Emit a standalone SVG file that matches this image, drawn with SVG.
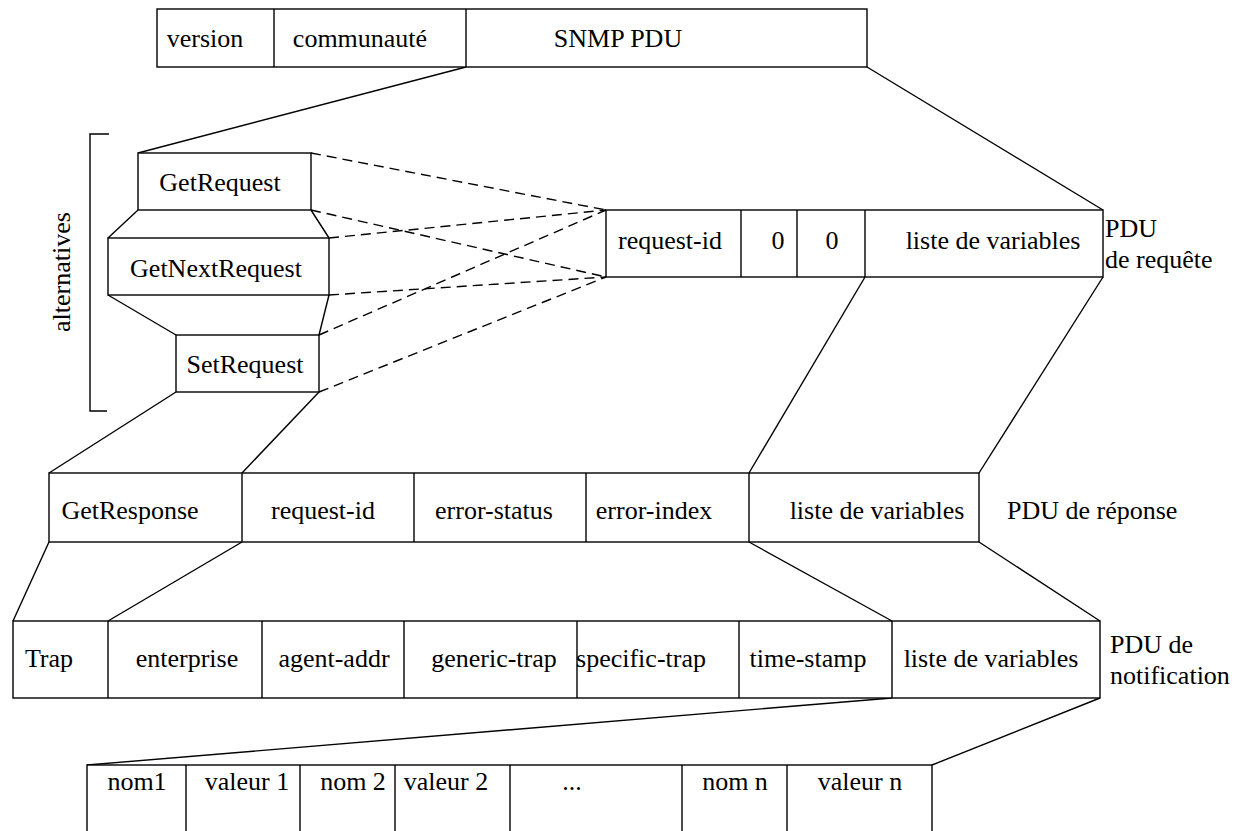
<svg xmlns="http://www.w3.org/2000/svg" width="1255" height="831" viewBox="0 0 1255 831">
  <style>
    .box { fill: #fff; stroke: #000; stroke-width: 1.4; }
    .div { stroke: #000; stroke-width: 1.4; fill: none; }
    .ln { stroke: #000; stroke-width: 1.4; fill: none; }
    .dash { stroke: #000; stroke-width: 1.4; fill: none; stroke-dasharray: 10 6; }
    text { font-family: "Liberation Serif", "Times New Roman", serif; font-size: 26px; fill: #000; }
    .c { text-anchor: middle; }
  </style>
  <rect width="1255" height="831" fill="#fff"/>

  <!-- links between the layers -->
  <g id="connectors">
    <line class="ln" x1="466" y1="67" x2="138" y2="153"/>
    <line class="ln" x1="867" y1="67" x2="1103" y2="210"/>
    <line class="ln" x1="176" y1="392" x2="49" y2="473"/>
    <line class="ln" x1="319" y1="392" x2="242" y2="473"/>
    <line class="ln" x1="865" y1="277" x2="749" y2="473"/>
    <line class="ln" x1="1103" y1="277" x2="979" y2="473"/>
    <line class="ln" x1="49" y1="542" x2="13" y2="621"/>
    <line class="ln" x1="242" y1="542" x2="108" y2="621"/>
    <line class="ln" x1="749" y1="542" x2="892" y2="621"/>
    <line class="ln" x1="979" y1="542" x2="1100" y2="621"/>
    <line class="ln" x1="892" y1="698" x2="87" y2="765"/>
    <line class="ln" x1="1100" y1="698" x2="932" y2="765"/>
    <line class="dash" x1="311" y1="153" x2="606" y2="210"/>
    <line class="dash" x1="311" y1="210" x2="606" y2="277"/>
    <line class="dash" x1="329" y1="238" x2="606" y2="210"/>
    <line class="dash" x1="329" y1="295" x2="606" y2="277"/>
    <line class="dash" x1="319" y1="335" x2="606" y2="210"/>
    <line class="dash" x1="319" y1="392" x2="606" y2="277"/>
  </g>

  <!-- SNMP message -->
  <g id="message">
    <rect class="box" x="157" y="9" width="710" height="58"/>
    <line class="div" x1="274" y1="9" x2="274" y2="67"/>
    <line class="div" x1="466" y1="9" x2="466" y2="67"/>
    <text class="c" x="205" y="47">version</text>
    <text class="c" x="360" y="47">communauté</text>
    <text class="c" x="618" y="47">SNMP PDU</text>
  </g>

  <!-- request PDU types -->
  <g id="alternatives">
    <path class="ln" d="M109,134 H90 V411 H107"/>
    <text class="c" x="70" y="272" transform="rotate(-90 70 272)">alternatives</text>
    <line class="ln" x1="138" y1="210" x2="108" y2="238"/>
    <line class="ln" x1="311" y1="210" x2="329" y2="238"/>
    <line class="ln" x1="108" y1="295" x2="176" y2="335"/>
    <line class="ln" x1="329" y1="295" x2="319" y2="335"/>
  </g>
  <g id="get-request">
    <rect class="box" x="138" y="153" width="173" height="57"/>
    <text class="c" x="220" y="191">GetRequest</text>
  </g>
  <g id="get-next-request">
    <rect class="box" x="108" y="238" width="221" height="57"/>
    <text class="c" x="216" y="277">GetNextRequest</text>
  </g>
  <g id="set-request">
    <rect class="box" x="176" y="335" width="143" height="57"/>
    <text class="c" x="245" y="373">SetRequest</text>
  </g>

  <!-- request PDU -->
  <g id="request-pdu">
    <rect class="box" x="606" y="210" width="497" height="67"/>
    <line class="div" x1="741" y1="210" x2="741" y2="277"/>
    <line class="div" x1="797" y1="210" x2="797" y2="277"/>
    <line class="div" x1="865" y1="210" x2="865" y2="277"/>
    <text class="c" x="670" y="249">request-id</text>
    <text class="c" x="778" y="249">0</text>
    <text class="c" x="832" y="249">0</text>
    <text class="c" x="993" y="249">liste de variables</text>
    <text x="1105" y="237">PDU</text>
    <text x="1105" y="268">de requête</text>
  </g>

  <!-- response PDU -->
  <g id="response-pdu">
    <rect class="box" x="49" y="473" width="930" height="69"/>
    <line class="div" x1="242" y1="473" x2="242" y2="542"/>
    <line class="div" x1="414" y1="473" x2="414" y2="542"/>
    <line class="div" x1="586" y1="473" x2="586" y2="542"/>
    <line class="div" x1="749" y1="473" x2="749" y2="542"/>
    <text class="c" x="130" y="519">GetResponse</text>
    <text class="c" x="323" y="519">request-id</text>
    <text class="c" x="494" y="519">error-status</text>
    <text class="c" x="654" y="519">error-index</text>
    <text class="c" x="877" y="519">liste de variables</text>
    <text x="1007" y="519">PDU de réponse</text>
  </g>

  <!-- trap PDU -->
  <g id="trap-pdu">
    <rect class="box" x="13" y="621" width="1087" height="77"/>
    <line class="div" x1="108" y1="621" x2="108" y2="698"/>
    <line class="div" x1="262" y1="621" x2="262" y2="698"/>
    <line class="div" x1="404" y1="621" x2="404" y2="698"/>
    <line class="div" x1="577" y1="621" x2="577" y2="698"/>
    <line class="div" x1="739" y1="621" x2="739" y2="698"/>
    <line class="div" x1="892" y1="621" x2="892" y2="698"/>
    <text class="c" x="49" y="667">Trap</text>
    <text class="c" x="187" y="667">enterprise</text>
    <text class="c" x="334" y="667">agent-addr</text>
    <text class="c" x="494" y="667">generic-trap</text>
    <text class="c" x="641" y="667">specific-trap</text>
    <text class="c" x="808" y="667">time-stamp</text>
    <text class="c" x="991" y="667">liste de variables</text>
    <text x="1110" y="653">PDU de</text>
    <text x="1110" y="684">notification</text>
  </g>

  <!-- variable bindings -->
  <g id="varbind-list">
    <rect class="box" x="87" y="765" width="845" height="80"/>
    <line class="div" x1="186" y1="765" x2="186" y2="845"/>
    <line class="div" x1="300" y1="765" x2="300" y2="845"/>
    <line class="div" x1="395" y1="765" x2="395" y2="845"/>
    <line class="div" x1="510" y1="765" x2="510" y2="845"/>
    <line class="div" x1="682" y1="765" x2="682" y2="845"/>
    <line class="div" x1="787" y1="765" x2="787" y2="845"/>
    <text class="c" x="137" y="790">nom1</text>
    <text class="c" x="247" y="790">valeur 1</text>
    <text class="c" x="353" y="790">nom 2</text>
    <text class="c" x="446" y="790">valeur 2</text>
    <text class="c" x="572" y="790">...</text>
    <text class="c" x="735" y="790">nom n</text>
    <text class="c" x="860" y="790">valeur n</text>
  </g>
</svg>
